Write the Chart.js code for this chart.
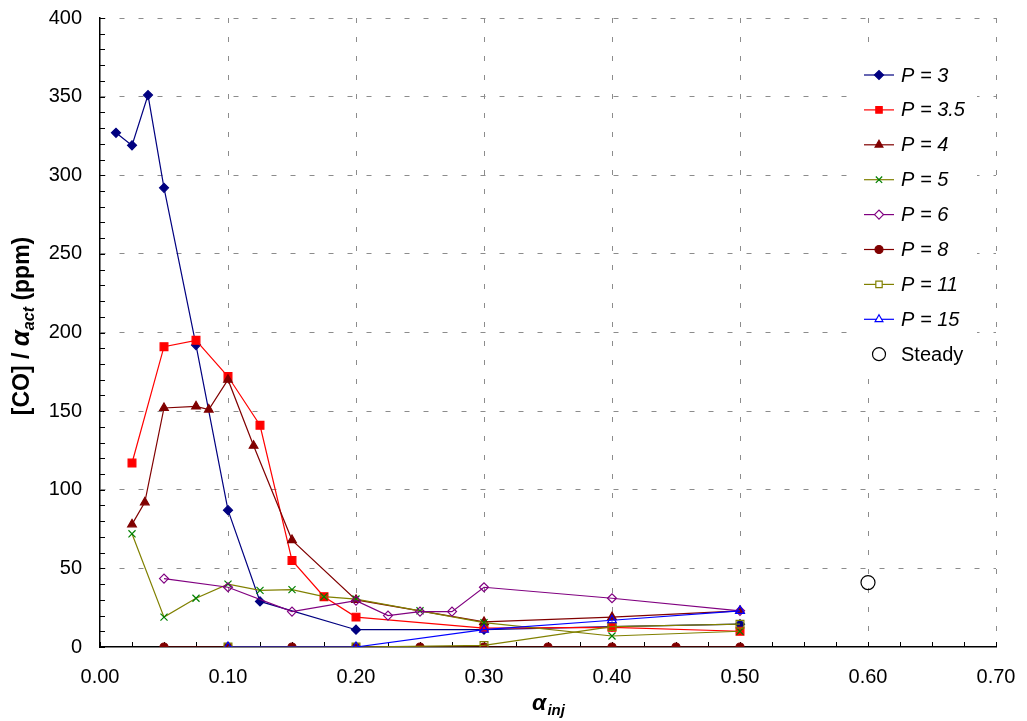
<!DOCTYPE html>
<html>
<head>
<meta charset="utf-8">
<script src="https://cdn.jsdelivr.net/npm/chart.js@4.4.0/dist/chart.umd.min.js"></script>
<style>
  html, body { margin: 0; padding: 0; background: #fff; }
  #wrap { width: 1027px; height: 721px; position: relative; }
</style>
</head>
<body>
<div id="wrap"><canvas id="chart"></canvas></div>
<script>
// values: x = alpha_inj, y = [CO]/alpha_act (ppm)
const p3X = [0.0125, 0.025, 0.0375, 0.05, 0.075, 0.1, 0.125, 0.2, 0.3, 0.4, 0.5];
const p3Y = [327, 319, 351, 292, 192, 87, 29, 11, 11, 13, 14.5];

const p35X = [0.025, 0.05, 0.075, 0.1, 0.125, 0.15, 0.175, 0.2, 0.3, 0.4, 0.5];
const p35Y = [117, 191, 195, 172, 141, 55, 32, 19, 12, 12.5, 10];

const p4X = [0.025, 0.035, 0.05, 0.075, 0.085, 0.1, 0.12, 0.15, 0.2, 0.3, 0.4, 0.5];
const p4Y = [78, 92, 152, 153, 151, 170, 128, 68, 30, 16, 19, 23];

const p5X = [0.025, 0.05, 0.075, 0.1, 0.125, 0.15, 0.175, 0.2, 0.25, 0.3, 0.4, 0.5];
const p5Y = [72, 19, 31, 40, 36, 36.5, 32, 30.5, 23, 15.5, 7, 10];

const p6X = [0.05, 0.1, 0.15, 0.2, 0.225, 0.25, 0.275, 0.3, 0.4, 0.5];
const p6Y = [43.5, 38, 22.5, 29.5, 20, 22.5, 22.5, 38, 31, 23];

const p8X = [0.05, 0.1, 0.15, 0.2, 0.25, 0.3, 0.35, 0.4, 0.45, 0.5];
const p8Y = [0, 0, 0, 0, 0, 0, 0, 0, 0, 0];

const p11X = [0.1, 0.2, 0.3, 0.4, 0.5];
const p11Y = [0, 0, 1, 13, 14.5];

const p15X = [0.1, 0.2, 0.3, 0.4, 0.5];
const p15Y = [0, 0, 11, 17, 23];

const steadyX = [0.6];
const steadyY = [41];

const seriesLabels = ['P = 3', 'P = 3.5', 'P = 4', 'P = 5', 'P = 6', 'P = 8', 'P = 11', 'P = 15', 'Steady'];
const xTicks = [0, 0.1, 0.2, 0.3, 0.4, 0.5, 0.6, 0.7];
const yTicks = [0, 50, 100, 150, 200, 250, 300, 350, 400];

const FONT = '"Liberation Sans", Arial, sans-serif';
const NONE = 'rgba(0,0,0,0)';

function pts(xs, ys) {
  return xs.map((x, i) => ({ x: x, y: ys[i] }));
}

function series(i, xs, ys, line, mark, fill, style, radius) {
  return {
    label: seriesLabels[i],
    data: pts(xs, ys),
    showLine: line !== null,
    borderColor: line || NONE,
    borderWidth: 1.2,
    pointStyle: style,
    pointRadius: radius,
    pointHoverRadius: radius,
    pointBorderColor: mark,
    pointBackgroundColor: fill,
    pointBorderWidth: 1.2,
    order: 20 - i   // later series drawn on top, like the original
  };
}

const datasets = [
  series(0, p3X, p3Y, '#000080', '#000080', '#000080', 'rectRot', 4.5),
  series(1, p35X, p35Y, '#ff0000', '#ff0000', '#ff0000', 'rect', 5.5),
  series(2, p4X, p4Y, '#800000', '#800000', '#800000', 'triangle', 5),
  series(3, p5X, p5Y, '#808000', '#008000', NONE, 'crossRot', 5),
  series(4, p6X, p6Y, '#800080', '#800080', NONE, 'rectRot', 4.5),
  series(5, p8X, p8Y, '#800000', '#800000', '#800000', 'circle', 4),
  series(6, p11X, p11Y, '#808000', '#808000', NONE, 'rect', 5.5),
  series(7, p15X, p15Y, '#0000ff', '#0000ff', NONE, 'triangle', 5),
  series(8, steadyX, steadyY, null, '#000000', NONE, 'circle', 7)
];

// inward minor tick marks on both axes
const innerTicks = {
  id: 'innerTicks',
  beforeDatasetsDraw(chart) {
    const { ctx, chartArea: a, scales: { x, y } } = chart;
    ctx.save();
    ctx.strokeStyle = '#000';
    ctx.lineWidth = 1;
    ctx.beginPath();
    for (let v = 0; v <= 400.001; v += 10) {
      const py = Math.round(y.getPixelForValue(v)) + 0.5;
      ctx.moveTo(a.left, py);
      ctx.lineTo(a.left + 5, py);
    }
    for (let v = 0; v <= 0.7001; v += 0.025) {
      const px = Math.round(x.getPixelForValue(v)) + 0.5;
      ctx.moveTo(px, a.bottom);
      ctx.lineTo(px, a.bottom - 5);
    }
    ctx.stroke();
    ctx.restore();
  }
};

// legend box inside the plot area, covering the grid
const boxLegend = {
  id: 'boxLegend',
  beforeDatasetsDraw(chart) {
    const ctx = chart.ctx;
    ctx.save();
    ctx.fillStyle = '#fff';
    ctx.fillRect(855, 55, 122, 318);
    chart.data.datasets.forEach((ds, i) => {
      const y = 75 + i * 34.9;
      if (ds.showLine) {
        ctx.strokeStyle = ds.borderColor;
        ctx.lineWidth = 1.2;
        ctx.beginPath();
        ctx.moveTo(864, y);
        ctx.lineTo(894, y);
        ctx.stroke();
      }
      ctx.strokeStyle = ds.pointBorderColor;
      ctx.fillStyle = ds.pointBackgroundColor === NONE ? '#fff' : ds.pointBackgroundColor;
      ctx.lineWidth = 1.2;
      const r = i === 8 ? 6.5 : Math.min(ds.pointRadius, 4.5);
      Chart.helpers.drawPoint(ctx, { pointStyle: ds.pointStyle, radius: r, rotation: 0, borderWidth: 1.2 }, 879, y);
      ctx.fillStyle = '#000';
      ctx.font = (i === 8 ? '' : 'italic ') + '20px ' + FONT;
      ctx.textBaseline = 'middle';
      ctx.textAlign = 'left';
      ctx.fillText(ds.label, 901, y + 1);
    });
    ctx.restore();
  }
};

// axis titles with subscripts
const axisTitles = {
  id: 'axisTitles',
  afterDraw(chart) {
    const ctx = chart.ctx;
    const a = chart.chartArea;
    ctx.save();
    ctx.fillStyle = '#000';
    ctx.textBaseline = 'alphabetic';
    ctx.textAlign = 'left';

    // x title: alpha_inj
    const big = 'italic bold 23px ' + FONT;
    const small = 'italic bold 15px ' + FONT;
    ctx.font = big;
    const wA = ctx.measureText('α').width;
    ctx.font = small;
    const wS = ctx.measureText('inj').width;
    let x0 = (a.left + a.right) / 2 - (wA + wS) / 2;
    ctx.font = big;
    ctx.fillText('α', x0, 710);
    ctx.font = small;
    ctx.fillText('inj', x0 + wA + 1, 715);

    // y title: [CO] / alpha_act (ppm)
    ctx.translate(29, 326);
    ctx.rotate(-Math.PI / 2);
    const parts = [
      { t: '[CO] / ', f: 'bold 23px ' + FONT, dy: 0 },
      { t: 'α', f: 'italic bold 26px ' + FONT, dy: 0 },
      { t: 'act', f: 'italic bold 16px ' + FONT, dy: 5 },
      { t: ' (ppm)', f: 'bold 23px ' + FONT, dy: 0 }
    ];
    let total = 0;
    parts.forEach(p => { ctx.font = p.f; p.w = ctx.measureText(p.t).width; total += p.w; });
    let cx = -total / 2;
    parts.forEach(p => {
      ctx.font = p.f;
      ctx.fillText(p.t, cx, p.dy);
      cx += p.w;
    });
    ctx.restore();
  }
};

const gridColor = c => (c.tick && c.tick.value === 0 ? NONE : '#8c8c8c');

new Chart(document.getElementById('chart'), {
  type: 'scatter',
  data: { datasets: datasets },
  options: {
    responsive: true,
    maintainAspectRatio: false,
    animation: false,
    events: [],
    layout: { padding: { left: 0, right: 31, top: 18, bottom: 0 } },
    plugins: {
      legend: { display: false },
      tooltip: { enabled: false }
    },
    scales: {
      x: {
        type: 'linear',
        min: 0,
        max: 0.7,
        afterBuildTicks: s => { s.ticks = xTicks.map(v => ({ value: v })); },
        afterFit: s => { s.height = 74; s.paddingLeft = 0; s.paddingRight = 0; },
        grid: { color: gridColor, lineWidth: 1, drawTicks: false },
        border: { color: '#000', width: 1.5, dash: [5, 14] },
        ticks: {
          color: '#000',
          font: { family: FONT, size: 20 },
          padding: 18,
          maxRotation: 0,
          callback: v => Number(v).toFixed(2)
        }
      },
      y: {
        type: 'linear',
        min: 0,
        max: 400,
        afterBuildTicks: s => { s.ticks = yTicks.map(v => ({ value: v })); },
        afterFit: s => { s.width = 100; s.paddingTop = 0; s.paddingBottom = 0; },
        grid: { color: gridColor, lineWidth: 1, drawTicks: false },
        border: { color: '#000', width: 1.5, dash: [5, 14] },
        ticks: {
          color: '#000',
          font: { family: FONT, size: 20 },
          padding: 18,
          callback: v => String(v)
        }
      }
    }
  },
  plugins: [innerTicks, boxLegend, axisTitles]
});
</script>
</body>
</html>
